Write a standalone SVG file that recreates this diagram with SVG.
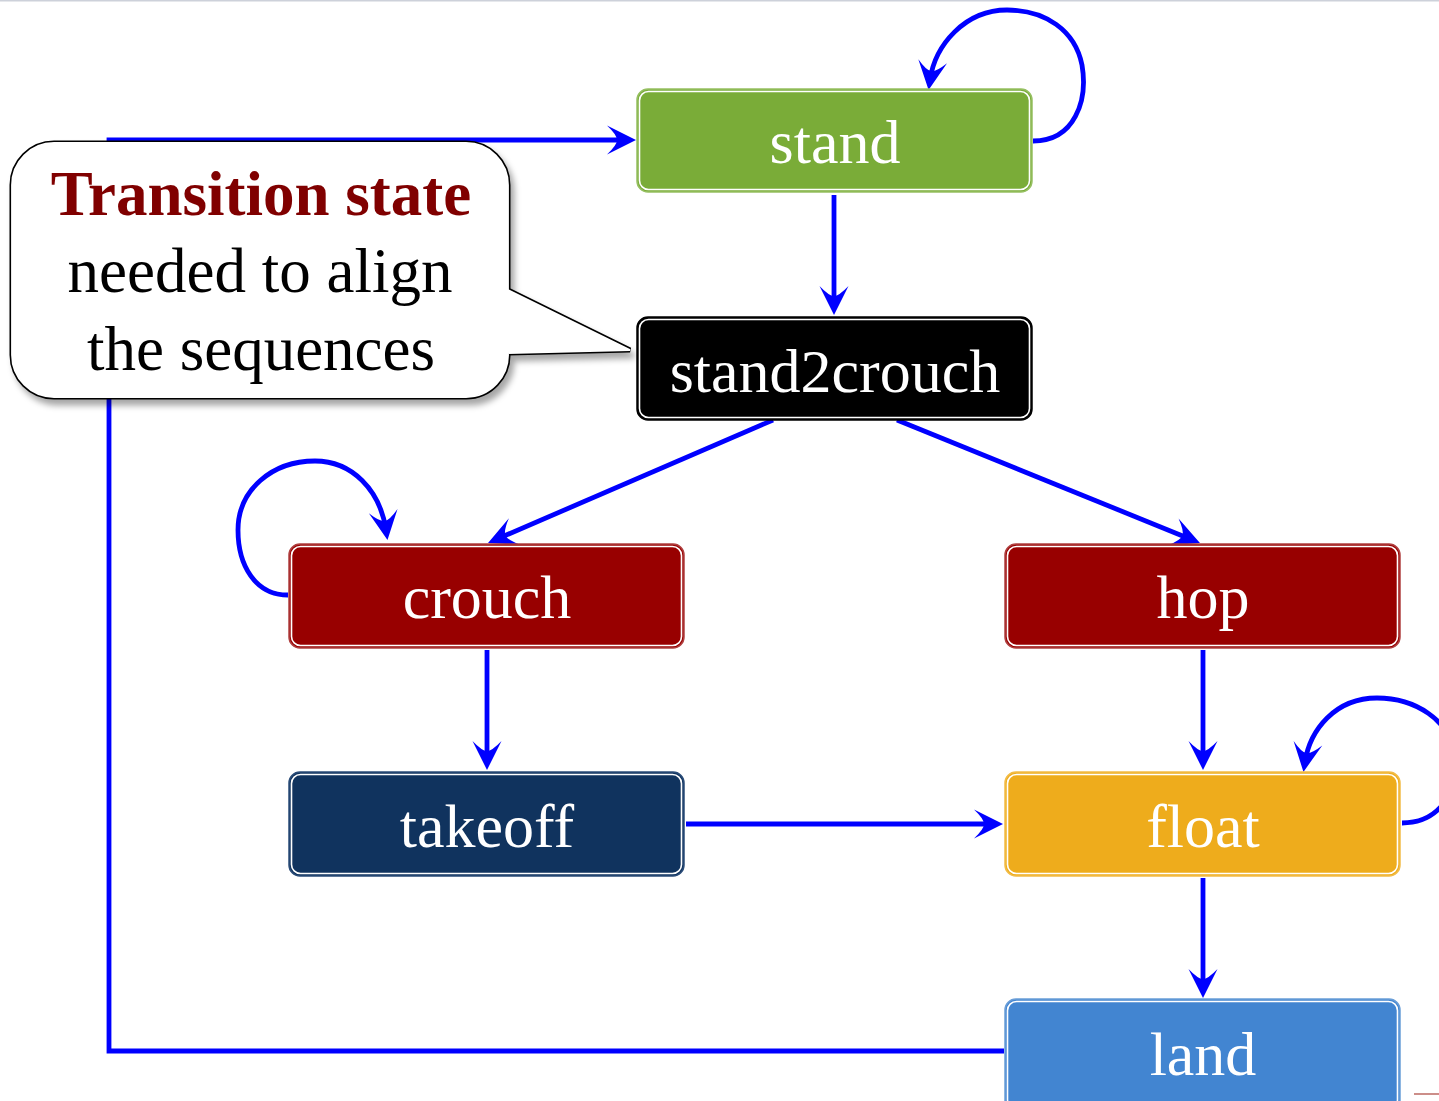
<svg xmlns="http://www.w3.org/2000/svg" width="1439" height="1101" viewBox="0 0 1439 1101">
<style>
.lbl{font-family:"Liberation Serif","Times New Roman",serif;font-size:62px;fill:#ffffff;text-anchor:middle}
.edge{fill:none;stroke:#0000ff;stroke-width:4.8}
.inner{fill:none;stroke:#ffffff;stroke-width:1.6}
.ct{font-family:"Liberation Serif","Times New Roman",serif;font-size:63px;fill:#000000;text-anchor:middle}
</style>
<defs>
<marker id="ah" markerUnits="userSpaceOnUse" markerWidth="34" markerHeight="34" viewBox="-31 -17 34 34" refX="-10" refY="0" orient="auto">
<path d="M0,0 L-29,-14.5 Q-19,-5 -19,0 Q-19,5 -29,14.5 Z" fill="#0000ff"/>
</marker>
<filter id="sh" x="-10%" y="-10%" width="130%" height="130%">
<feDropShadow dx="4" dy="6" stdDeviation="3" flood-color="#000000" flood-opacity="0.35"/>
</filter>
</defs>
<rect width="1439" height="1101" fill="#ffffff"/>
<line x1="0" y1="0.8" x2="1439" y2="0.8" stroke="#cdd1da" stroke-width="1.6"/>
<line x1="1414" y1="1094" x2="1439" y2="1094" stroke="#c0726c" stroke-width="1.6"/>

<g id="connectors">
<path class="edge" d="M834,195 L834,305" marker-end="url(#ah)"/>
<path class="edge" d="M773,420 L497.2,539" marker-end="url(#ah)"/>
<path class="edge" d="M897,420 L1190.7,539.2" marker-end="url(#ah)"/>
<path class="edge" d="M487,650 L487,760" marker-end="url(#ah)"/>
<path class="edge" d="M1203,650 L1203,760" marker-end="url(#ah)"/>
<path class="edge" d="M686,824 L993,824" marker-end="url(#ah)"/>
<path class="edge" d="M1203,878 L1203,988" marker-end="url(#ah)"/>
<path class="edge" d="M1004,1051 L109,1051 L109,140 L626,140" marker-end="url(#ah)"/>
<path class="edge" d="M1033,141 C1075,141 1088,100 1082,65 C1075,30 1045,10 1007,10 C965,10 935,45 930,80" marker-end="url(#ah)"/>
<path class="edge" d="M288,595 C255,595 238,565 238,530 C238,490 272,461 315,461 C352,461 380,490 386,530" marker-end="url(#ah)"/>
<path class="edge" d="M1402,823 C1440,823 1460,790 1455,755 C1450,720 1415,698 1377,698 C1335,698 1310,730 1305,762" marker-end="url(#ah)"/>
</g>

<g id="callout">
<path d="M54,143 H466 A42,42 0 0 1 508,185 V290 L630,350 L508,353 A42,42 0 0 1 466,397 H54 A42,42 0 0 1 12,355 V185 A42,42 0 0 1 54,143 Z" fill="#ffffff" stroke="#000000" stroke-width="5" filter="url(#sh)"/>
<path d="M54,143 H466 A42,42 0 0 1 508,185 V290 L630,350 L508,353 A42,42 0 0 1 466,397 H54 A42,42 0 0 1 12,355 V185 A42,42 0 0 1 54,143 Z" fill="#ffffff" stroke="#ffffff" stroke-width="1.8"/>
<text class="ct" x="261" y="215" font-weight="bold" style="fill:#800000">Transition state</text>
<text class="ct" x="260" y="292">needed to align</text>
<text class="ct" x="261" y="370">the sequences</text>
</g>

<g id="stand">
<rect x="637" y="89" width="395" height="103" rx="11" fill="#7aac38" stroke="#96c062" stroke-width="1.5"/>
<rect x="639.5" y="91.5" width="390" height="98" rx="9" class="inner"/>
<text class="lbl" x="835" y="163">stand</text>
</g>

<g id="stand2crouch">
<rect x="637" y="317" width="395" height="103" rx="11" fill="#000000" stroke="#000000" stroke-width="1.5"/>
<rect x="639.5" y="319.5" width="390" height="98" rx="9" class="inner"/>
<text class="lbl" x="835" y="392">stand2crouch</text>
</g>

<g id="crouch">
<rect x="289" y="544" width="395" height="104" rx="11" fill="#980000" stroke="#b04040" stroke-width="1.5"/>
<rect x="291.5" y="546.5" width="390" height="99" rx="9" class="inner"/>
<text class="lbl" x="487" y="618">crouch</text>
</g>

<g id="hop">
<rect x="1005" y="544" width="395" height="104" rx="11" fill="#980000" stroke="#b04040" stroke-width="1.5"/>
<rect x="1007.5" y="546.5" width="390" height="99" rx="9" class="inner"/>
<text class="lbl" x="1203" y="618">hop</text>
</g>

<g id="takeoff">
<rect x="289" y="772" width="395" height="104" rx="11" fill="#10335e" stroke="#2a4c78" stroke-width="1.5"/>
<rect x="291.5" y="774.5" width="390" height="99" rx="9" class="inner"/>
<text class="lbl" x="487" y="847">takeoff</text>
</g>

<g id="float">
<rect x="1005" y="772" width="395" height="104" rx="11" fill="#eeac1c" stroke="#f2bc48" stroke-width="1.5"/>
<rect x="1007.5" y="774.5" width="390" height="99" rx="9" class="inner"/>
<text class="lbl" x="1203" y="847">float</text>
</g>

<g id="land">
<rect x="1005" y="999" width="395" height="112" rx="11" fill="#4285d1" stroke="#6a9ed8" stroke-width="1.5"/>
<rect x="1007.5" y="1001.5" width="390" height="107" rx="9" class="inner"/>
<text class="lbl" x="1203" y="1075">land</text>
</g>
</svg>
